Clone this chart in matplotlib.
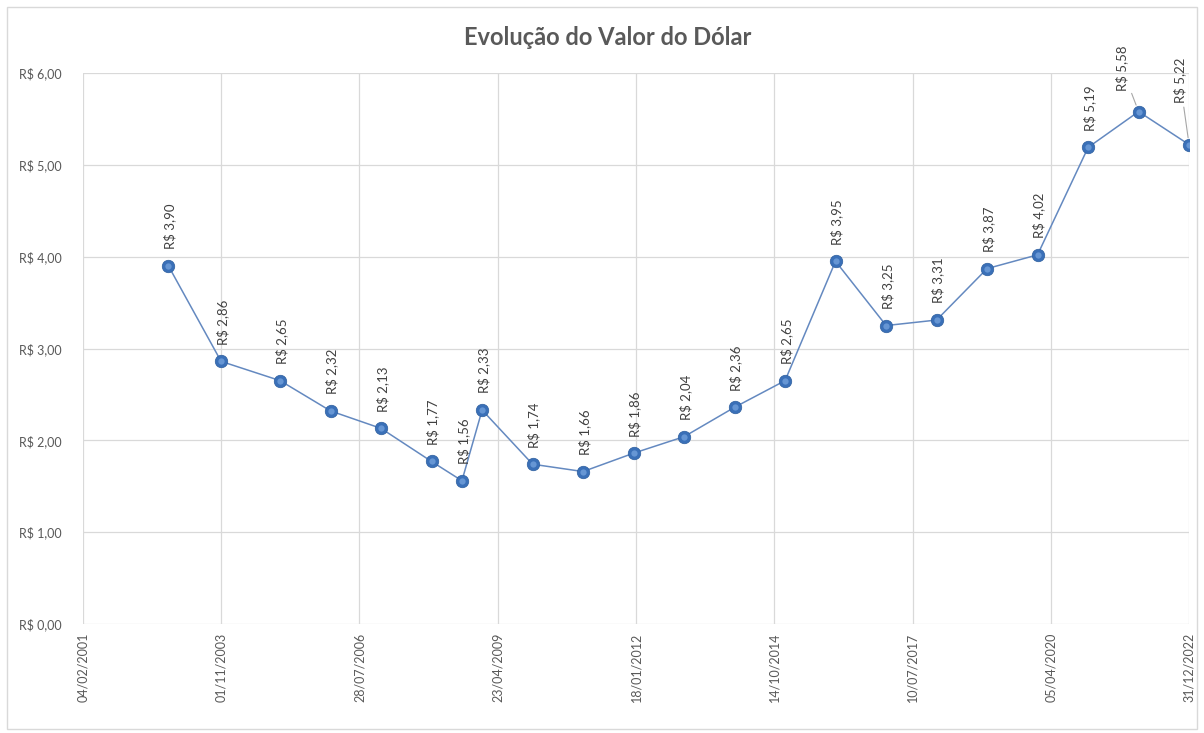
import pandas as pd
import numpy as np
import matplotlib
matplotlib.use('Agg')
import matplotlib.pyplot as plt
import matplotlib.dates as mdates
from matplotlib.patches import Rectangle

plt.rcParams['font.family'] = ['Lato', 'DejaVu Sans']

# dados: cotacao do dolar (fechamento)
datas = ['15/10/2002', '31/10/2003', '31/12/2004', '31/12/2005', '31/12/2006',
         '31/12/2007', '07/08/2008', '31/12/2008', '31/12/2009', '31/12/2010',
         '31/12/2011', '31/12/2012', '31/12/2013', '31/12/2014', '31/12/2015',
         '31/12/2016', '31/12/2017', '31/12/2018', '31/12/2019', '31/12/2020',
         '31/12/2021', '31/12/2022']
valores = [3.90, 2.86, 2.65, 2.32, 2.13, 1.77, 1.56, 2.33, 1.74, 1.66,
           1.86, 2.04, 2.36, 2.65, 3.95, 3.25, 3.31, 3.87, 4.02, 5.19,
           5.58, 5.22]

inicio_eixo = '04/02/2001'
fim_eixo = '31/12/2022'
y_ticks = [0, 1, 2, 3, 4, 5, 6]

CINZA = '#595959'
GRADE = '#D9D9D9'


def reais(v):
    return 'R$ ' + '{:.2f}'.format(v).replace('.', ',')


df = pd.DataFrame({'data': pd.to_datetime(datas, dayfirst=True), 'valor': valores})
x_ini = pd.to_datetime(inicio_eixo, dayfirst=True)
x_fim = pd.to_datetime(fim_eixo, dayfirst=True)
x_ticks = list(pd.date_range(x_ini, x_fim, freq='1000D'))
if x_ticks[-1] != x_fim:
    x_ticks.append(x_fim)

fig = plt.figure(figsize=(12.04, 7.33), dpi=100)
ax = fig.add_axes([0.0689, 0.1487, 0.9187, 0.7517])

fig.patches.append(Rectangle((0.006, 0.006), 0.988, 0.985, transform=fig.transFigure,
                             fill=False, edgecolor=GRADE, lw=1))

ax.plot(df.data, df.valor, color='#6489C0', lw=1.1, zorder=3)
ax.plot(df.data, df.valor, 'o', ms=9, color='#3A70B8', mec='#2E5F9E', mew=0.5, zorder=4)
ax.plot(df.data, df.valor, 'o', ms=4.5, color='#76A4DE', mew=0, alpha=0.75, zorder=5)

# deslocamento dos rotulos (em pontos)
desloc = {20: (-12, 15), 21: (-6.5, 30)}
for i, (d, v) in enumerate(zip(df.data, df.valor)):
    dx, dy = desloc.get(i, (1, 12))
    props = None
    if i in desloc:
        props = dict(arrowstyle='-', color='#A6A6A6', lw=0.8, shrinkA=1, shrinkB=5)
    ax.annotate(reais(v), (d, v), xytext=(dx, dy), textcoords='offset points',
                rotation=90, ha='center', va='bottom', fontsize=9.5, color='#404040',
                arrowprops=props, zorder=6)

ax.set_xlim(x_ini, x_fim)
ax.set_ylim(0, 6)
ax.set_yticks(y_ticks)
ax.set_yticklabels([reais(v) for v in y_ticks])
ax.set_xticks(x_ticks)
ax.xaxis.set_major_formatter(mdates.DateFormatter('%d/%m/%Y'))
plt.setp(ax.get_xticklabels(), rotation=90)

ax.grid(True, color=GRADE, lw=0.9)
ax.set_axisbelow(True)
for s in ax.spines.values():
    s.set_visible(False)
ax.tick_params(length=0, colors=CINZA, labelsize=9)
ax.tick_params(axis='y', pad=15)
ax.tick_params(axis='x', pad=6)

fig.text(0.505, 0.9495, 'Evolução do Valor do Dólar', ha='center', va='center',
         fontsize=17, fontweight='bold', color=CINZA)

plt.savefig('out.png', dpi=100)
